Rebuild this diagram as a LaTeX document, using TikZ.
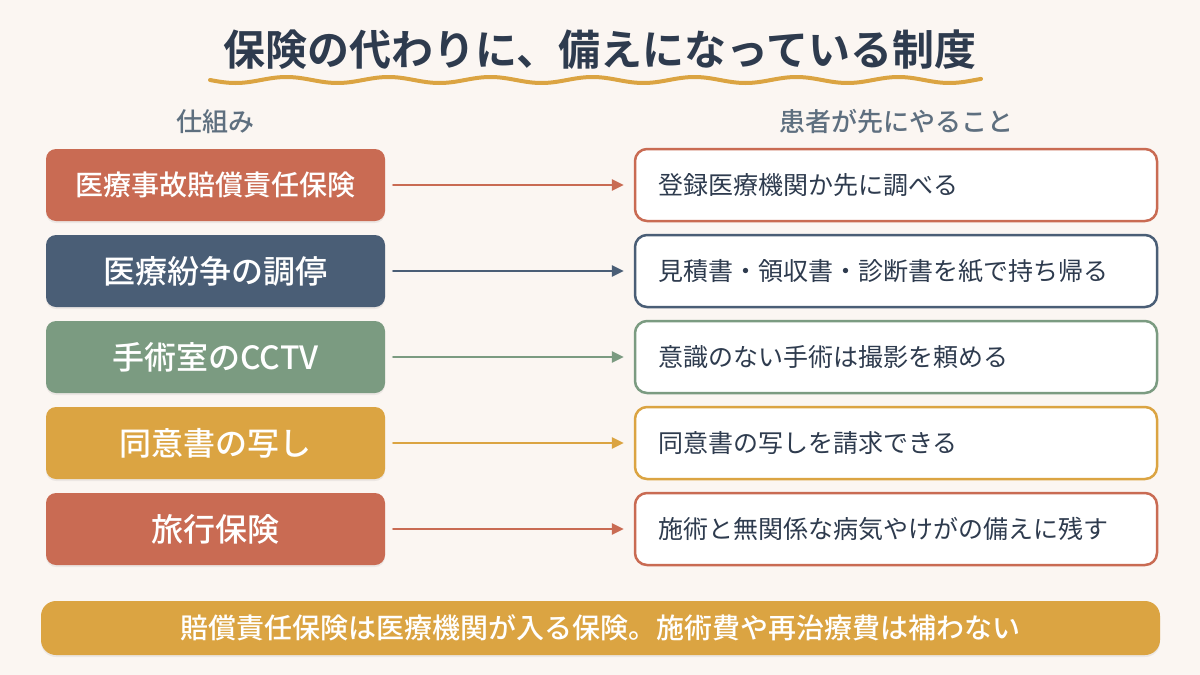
\documentclass[tikz,border=0pt]{standalone}
\usepackage{fontspec}
\setmainfont{Noto Sans CJK JP}[BoldFont={Noto Sans CJK JP Medium}]
\newfontfamily\titlefont{Noto Sans CJK JP Bold}
\usetikzlibrary{arrows.meta,shadows}

\definecolor{bgcream}{HTML}{FBF6F2}
\definecolor{ink}{HTML}{2E3B4E}
\definecolor{slate}{HTML}{5E6F7F}
\definecolor{terra}{HTML}{C96B53}
\definecolor{navy}{HTML}{4A5E76}
\definecolor{sage}{HTML}{7B9B81}
\definecolor{gold}{HTML}{DBA442}

\begin{document}
\begin{tikzpicture}[
  x=1pt, y=-1pt,
  line cap=round,
  line join=round,
  mech/.style={fill=#1, rounded corners=10pt, minimum width=339pt, minimum height=72pt,
    text=white, font=\bfseries\fontsize{32}{38}\selectfont, inner sep=0pt,
    drop shadow={opacity=0.12, shadow xshift=0pt, shadow yshift=-2pt}},
  todo/.style={draw=#1, line width=2.5pt, fill=white, rounded corners=12pt,
    minimum height=72pt, text width=476pt, inner xsep=23pt, align=left,
    text=ink, font=\fontsize{25}{30}\selectfont},
  arr/.style={draw=#1, line width=2.5pt, -{Triangle[length=12pt,width=11pt]},
    shorten <=8pt, shorten >=10pt},
  head/.style={text=slate, font=\bfseries\fontsize{26}{32}\selectfont}
]
  \fill[bgcream] (0,0) rectangle (1200,675);
  \useasboundingbox (0,0) rectangle (1200,675);

  % Title and wavy underline
  \node[text=ink, font=\titlefont\fontsize{42}{50}\selectfont] (title) at (600,50)
    {保険の代わりに、備えになっている制度};
  \draw[gold, line width=4pt]
    plot[domain=210:981, samples=240] (\x, {80+3*sin((\x-210)/102*360)});

  % Column headers
  \node[head] (hmech) at (215,122) {仕組み};
  \node[head] (htodo) at (896,122) {患者が先にやること};

  % Left column: the systems
  \node[mech=terra, font=\bfseries\fontsize{28}{34}\selectfont] (m1) at (215.5,185) {医療事故賠償責任保険};
  \node[mech=navy]  (m2) at (215.5,271) {医療紛争の調停};
  \node[mech=sage]  (m3) at (215.5,357) {手術室のCCTV};
  \node[mech=gold]  (m4) at (215.5,443) {同意書の写し};
  \node[mech=terra] (m5) at (215.5,529) {旅行保険};

  % Right column: what the patient does first
  \node[todo=terra] (t1) at (896,185) {登録医療機関か先に調べる};
  \node[todo=navy]  (t2) at (896,271) {見積書・領収書・診断書を紙で持ち帰る};
  \node[todo=sage]  (t3) at (896,357) {意識のない手術は撮影を頼める};
  \node[todo=gold]  (t4) at (896,443) {同意書の写しを請求できる};
  \node[todo=terra] (t5) at (896,529) {施術と無関係な病気やけがの備えに残す};

  % Connectors
  \draw[arr=terra] (m1) -- (t1);
  \draw[arr=navy]  (m2) -- (t2);
  \draw[arr=sage]  (m3) -- (t3);
  \draw[arr=gold]  (m4) -- (t4);
  \draw[arr=terra] (m5) -- (t5);

  % Bottom note
  \node[fill=gold, rounded corners=15pt, minimum width=1119pt, minimum height=54pt,
    text=white, font=\bfseries\fontsize{28}{32}\selectfont,
    drop shadow={opacity=0.12, shadow xshift=0pt, shadow yshift=-2pt}] (note) at (600.5,628)
    {賠償責任保険は医療機関が入る保険。施術費や再治療費は補わない};
\end{tikzpicture}
\end{document}
